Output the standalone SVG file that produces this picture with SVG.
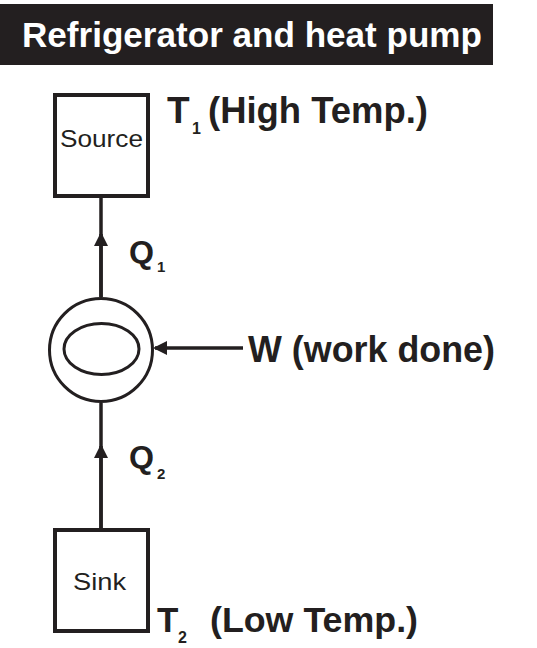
<svg xmlns="http://www.w3.org/2000/svg" width="537" height="648" viewBox="0 0 537 648">
<style>
.box{fill:#fff;stroke:#231f20;stroke-width:4}
.ln{fill:none;stroke:#231f20;stroke-width:3.5}
.thin{fill:none;stroke:#231f20;stroke-width:3}
.lbl{font-family:"Liberation Sans",Arial,sans-serif;font-weight:bold;fill:#231f20}
.nd{font-family:"Liberation Sans",Arial,sans-serif;fill:#231f20}
.title{font-family:"Liberation Sans",Arial,sans-serif;font-weight:bold;fill:#fff}
</style>
<defs>
<marker id="ah" markerWidth="14" markerHeight="14" refX="12" refY="7" orient="auto" markerUnits="userSpaceOnUse">
<path d="M0,0 L14,7 L0,14 Z" fill="#231f20"/>
</marker>
</defs>
<rect width="537" height="648" fill="#fff"/>
<g id="title">
<rect x="0" y="4" width="493" height="61" fill="#231f20"/>
<text class="title" x="22" y="47" font-size="35" textLength="460" lengthAdjust="spacingAndGlyphs">Refrigerator and heat pump</text>
</g>
<g id="connectors">
<line class="ln" x1="101" y1="297" x2="101" y2="198"/>
<line class="ln" x1="101" y1="297" x2="101" y2="234" marker-end="url(#ah)"/>
<line class="ln" x1="101" y1="528" x2="101" y2="403"/>
<line class="ln" x1="101" y1="528" x2="101" y2="446" marker-end="url(#ah)"/>
<line class="ln" x1="243" y1="348" x2="155" y2="348" marker-end="url(#ah)"/>
</g>
<g id="source">
<rect class="box" x="55" y="95" width="93" height="101"/>
<text class="nd" x="60" y="147" font-size="24" textLength="83" lengthAdjust="spacingAndGlyphs">Source</text>
</g>
<g id="t1">
<text class="lbl" x="167" y="123" font-size="37">T</text>
<text class="lbl" x="192" y="134" font-size="16">1</text>
<text class="lbl" x="208" y="123" font-size="37" textLength="220" lengthAdjust="spacingAndGlyphs">(High Temp.)</text>
</g>
<g id="engine">
<circle class="thin" cx="101" cy="350" r="51.5"/>
<ellipse class="thin" cx="101.5" cy="349" rx="37.5" ry="25.5"/>
</g>
<g id="q1">
<text class="lbl" x="129" y="263" font-size="31" textLength="25" lengthAdjust="spacingAndGlyphs">Q</text>
<text class="lbl" x="157" y="272" font-size="15">1</text>
</g>
<g id="q2">
<text class="lbl" x="129" y="468" font-size="31" textLength="25" lengthAdjust="spacingAndGlyphs">Q</text>
<text class="lbl" x="157" y="479" font-size="15">2</text>
</g>
<g id="work">
<text class="lbl" x="248" y="362" font-size="37" textLength="247" lengthAdjust="spacingAndGlyphs">W (work done)</text>
</g>
<g id="sink">
<rect class="box" x="55" y="530" width="93" height="101"/>
<text class="nd" x="73" y="590" font-size="24" textLength="53" lengthAdjust="spacingAndGlyphs">Sink</text>
</g>
<g id="t2">
<text class="lbl" x="157" y="632" font-size="35">T</text>
<text class="lbl" x="178" y="643" font-size="16">2</text>
<text class="lbl" x="210" y="632" font-size="35" textLength="208" lengthAdjust="spacingAndGlyphs">(Low Temp.)</text>
</g>
</svg>
